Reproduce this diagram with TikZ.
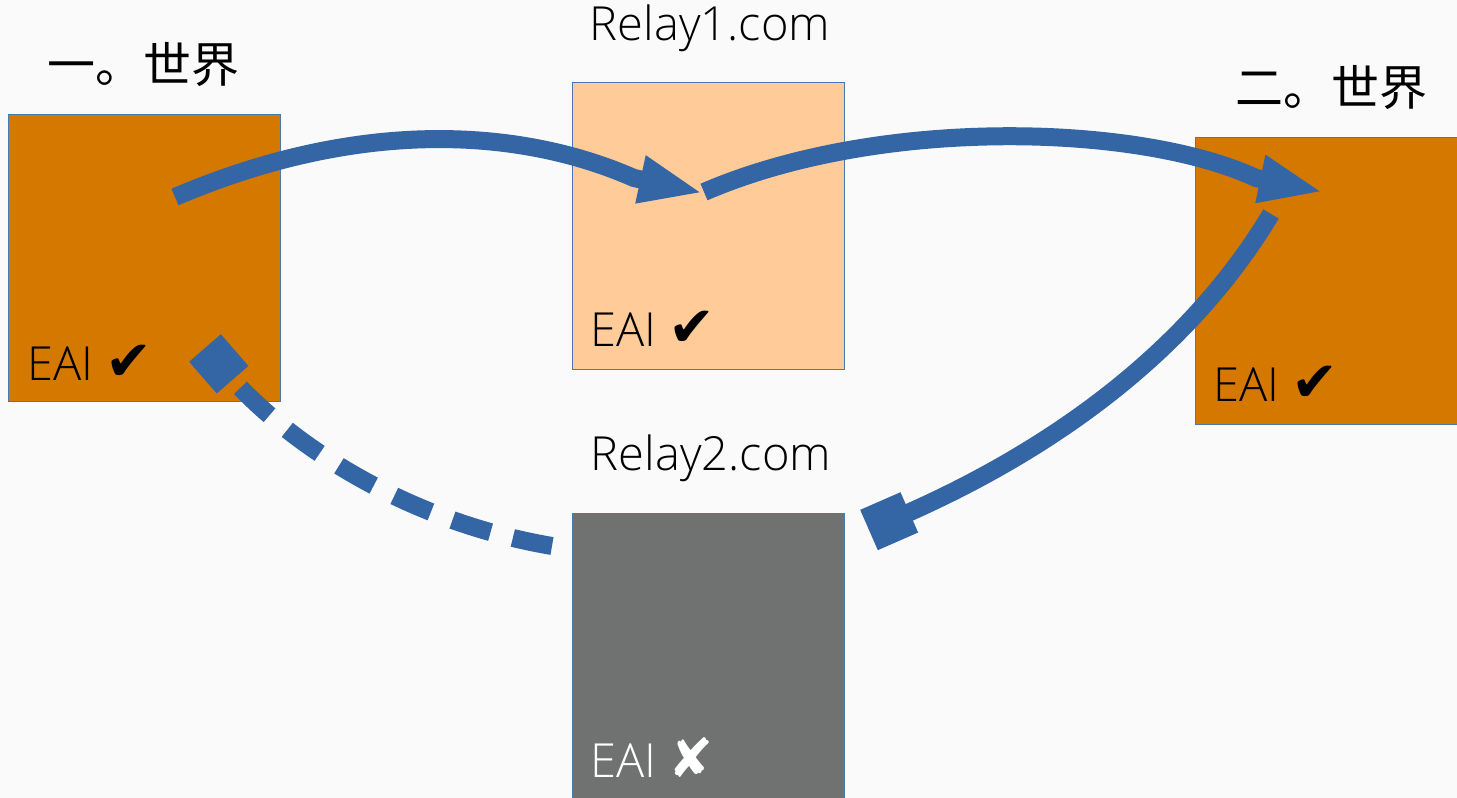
\documentclass[tikz,border=0pt]{standalone}
\usepackage{fontspec}
\IfFontExistsTF{Open Sans Light}{\setmainfont{Open Sans Light}}{\setmainfont{Open Sans}}
\newfontfamily\cjk{Noto Sans CJK SC}
\newfontfamily\sym{DejaVu Sans}
\usetikzlibrary{arrows.meta}

\definecolor{bgcol}{HTML}{FAFAFA}
\definecolor{worldfill}{HTML}{D47800}
\definecolor{relayok}{HTML}{FFCC99}
\definecolor{relaydown}{HTML}{707271}
\definecolor{edgecol}{HTML}{4A78B0}
\definecolor{flow}{HTML}{3465A4}

\newcommand\okmark{{\fontsize{56}{60}\selectfont\sym ✔}}
\newcommand\failmark{{\fontsize{54}{60}\selectfont\sym ✘}}

\tikzset{
  site/.style={draw=edgecol, line width=1pt, inner sep=0pt,
               minimum width=272pt, minimum height=287pt},
  heading/.style={inner sep=0pt, font=\fontsize{47}{56}\selectfont},
  cjkheading/.style={inner sep=0pt, font=\fontsize{48}{56}\selectfont\cjk},
  status/.style={inner sep=0pt, anchor=base west, font=\fontsize{47}{56}\selectfont},
  flowline/.style={draw=flow, line width=18pt},
}

\begin{document}
\begin{tikzpicture}[x=1pt, y=-1pt]
  \fill[bgcol] (0,0) rectangle (1457,798);
  \useasboundingbox (0,0) rectangle (1457,798);
  \clip (0,0) rectangle (1457,798);

  % sites
  \node[site, fill=worldfill] (w1) at (144,257.5) {};
  \node[site, fill=relayok]   (r1) at (708,225.5) {};
  \node[site, fill=worldfill] (w2) at (1331,280.5) {};
  \node[site, fill=relaydown] (r2) at (708,656.5) {};

  % headings
  \node[cjkheading] (t1) at (143,65) {一。世界};
  \node[heading]    (tr1) at (710,28) {Relay1.com};
  \node[cjkheading] (t2) at (1331,88) {二。世界};
  \node[heading]    (tr2) at (711,458) {Relay2.com};

  % status labels
  \node[status] (s1) at (27,380)   {EAI \okmark};
  \node[status] (s2) at (590,346)  {EAI \okmark};
  \node[status] (s3) at (1213,401) {EAI \okmark};
  \node[status, text=white] (s4) at (590,777) {EAI \failmark};

  % connector end points
  \coordinate (a1) at (175,197);
  \coordinate (a2) at (703,193);
  \coordinate (b1) at (704,192);
  \coordinate (b2) at (1323,192);
  \coordinate (c1) at (1271,214);
  \coordinate (c2) at (869,530);
  \coordinate (d1) at (205,348);
  \coordinate (d2) at (552,546);

  % flows
  \draw[flowline, -{Triangle[length=64pt,width=44pt]}]
    (a1) .. controls (360,118) and (520,128) .. (634,178) -- (a2);
  \draw[flowline, -{Triangle[length=64pt,width=44pt]}]
    (b1) .. controls (880,116) and (1140,124) .. (1256,178) -- (b2);
  \draw[flowline, -{Square[length=44pt,width=44pt]}]
    (c1) .. controls (1169,384) and (997,474) .. (c2);
  \draw[flowline, dash pattern=on 40pt off 23pt, -{Square[length=42pt,width=42pt]}]
    (d2) .. controls (400,520) and (285,440) .. (d1);
\end{tikzpicture}
\end{document}
